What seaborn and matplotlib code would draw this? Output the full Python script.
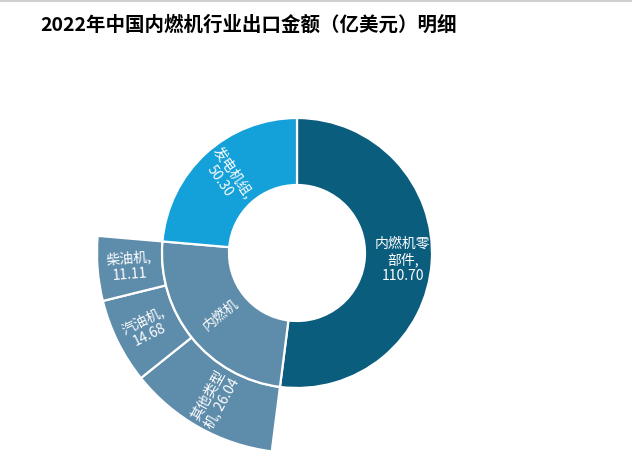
import numpy as np
import matplotlib
matplotlib.use("Agg")
import matplotlib.pyplot as plt
from matplotlib.lines import Line2D
import seaborn as sns

sns.set_theme(style="white")
plt.rcParams['font.family'] = ['Noto Sans CJK SC', 'DejaVu Sans']

# 内圈（一级分类）
inner_names = ['内燃机零部件', '内燃机', '发电机组']
inner_values = [110.70, 51.83, 50.30]
inner_labels = ['内燃机零\n部件,\n110.70', '内燃机', '发电机组,\n50.30']

# 外圈（内燃机细分）
outer_names = ['其他类型机', '汽油机', '柴油机']
outer_values = [26.04, 14.68, 11.11]
outer_labels = ['其他类型\n机, 26.04', '汽油机,\n14.68', '柴油机,\n11.11']

inner_colors = ['#0b5d7e', '#5e8cab', '#14a0d8']
outer_color = '#5e8cab'

fig = plt.figure(figsize=(6.32, 4.61), dpi=100)
ax = fig.add_axes([97 / 632, 8 / 461, 400 / 632, 400 / 461])

wedge_kw = dict(edgecolor='white', linewidth=1.6)

# 外圈：把非内燃机部分设为透明
outer_all = [inner_values[0]] + outer_values + [inner_values[2]]
outer_cols = ['none'] + [outer_color] * 3 + ['none']
ow, _ = ax.pie(outer_all, radius=1.0, startangle=90, counterclock=False,
               colors=outer_cols,
               wedgeprops=dict(width=0.325, **wedge_kw))
ow[0].set_edgecolor('none')
ow[-1].set_edgecolor('none')

iw, _ = ax.pie(inner_values, radius=0.675, startangle=90, counterclock=False,
               colors=inner_colors,
               wedgeprops=dict(width=0.335, **wedge_kw))


def put_label(w, text, r, flat=False, extra=0):
    ang = (w.theta1 + w.theta2) / 2
    x = r * np.cos(np.radians(ang))
    y = r * np.sin(np.radians(ang))
    a = ang % 360
    rot = a - 180 if 90 < a < 270 else (a if a <= 90 else a - 360)
    if flat:
        rot = 0
    ax.text(x, y, text, ha='center', va='center', rotation=rot + extra,
            rotation_mode='anchor', color='white', fontsize=10,
            linespacing=1.15, multialignment='center')


put_label(iw[0], inner_labels[0], 0.53, flat=True)
put_label(iw[1], inner_labels[1], 0.49)
put_label(iw[2], inner_labels[2], 0.52, extra=-8)

for w, t in zip(ow[1:4], outer_labels):
    put_label(w, t, 0.84)

ax.set_xlim(-1, 1)
ax.set_ylim(-1, 1)
ax.set_aspect('equal')
ax.axis('off')

fig.text(40 / 632, 1 - 25 / 461, '2022年中国内燃机行业出口金额（亿美元）明细',
         fontsize=14, fontweight='bold', color='black', va='center', ha='left')
fig.add_artist(Line2D([0, 1], [0.998, 0.998], color='#cfcfcf', linewidth=1.5,
                      transform=fig.transFigure))

fig.savefig('out.png', dpi=100)
